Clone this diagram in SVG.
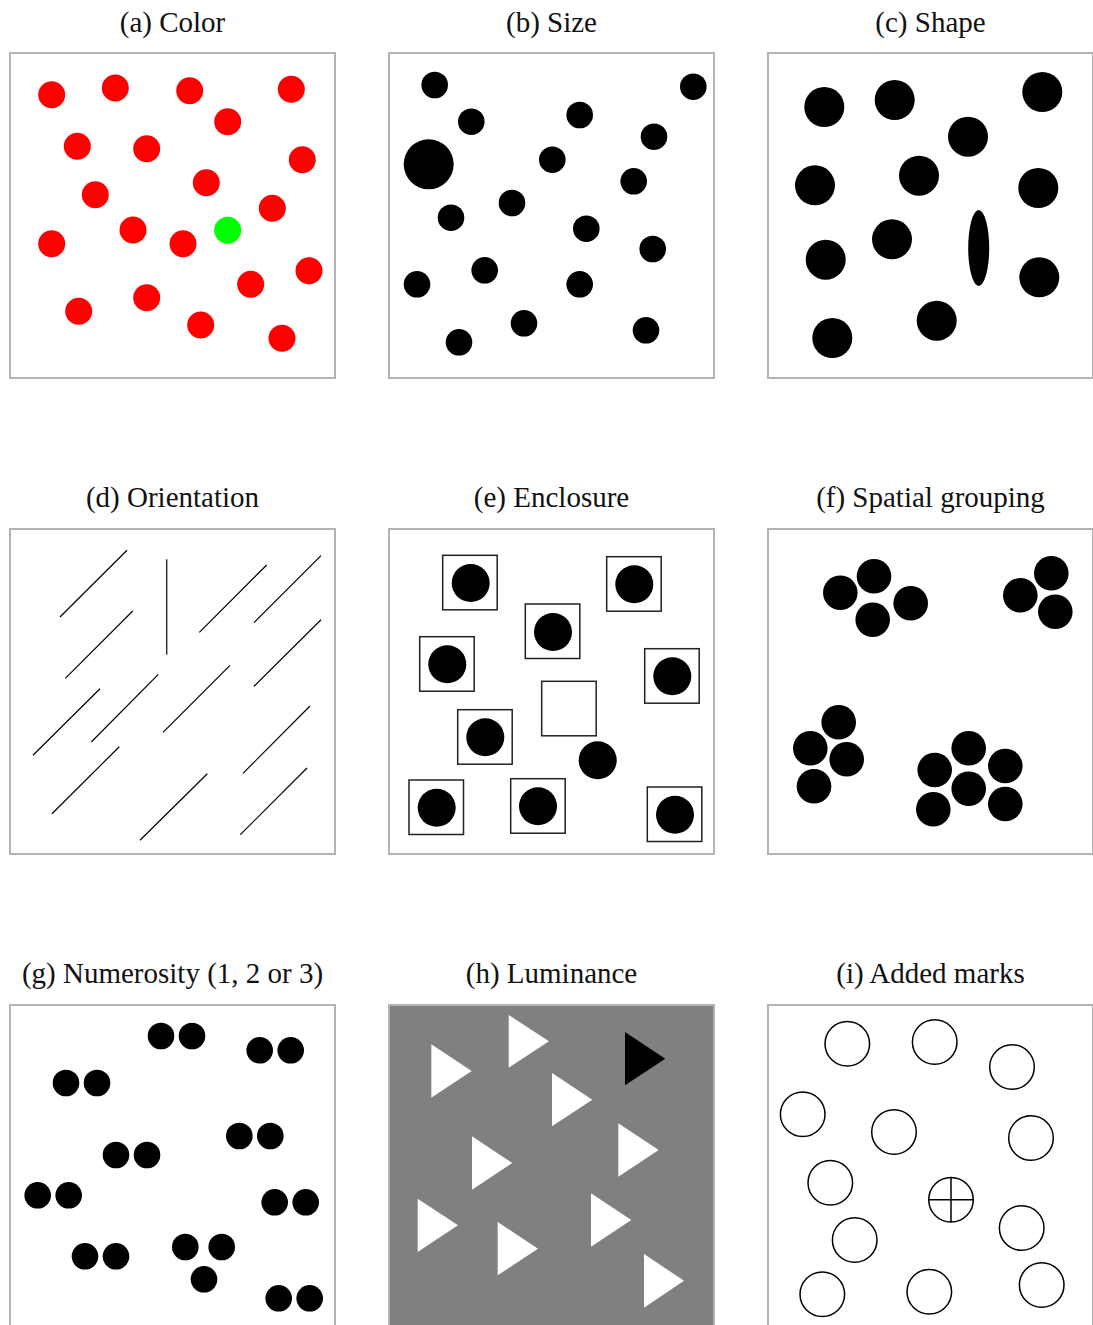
<svg xmlns="http://www.w3.org/2000/svg" width="1093" height="1325" viewBox="0 0 1093 1325">
<style>
.t{font-family:"Liberation Serif","Times New Roman",serif;font-size:29px;fill:#111;text-anchor:middle}
.f{fill:#fff;stroke:#b3b3b3;stroke-width:2}
.r{fill:#ff0000}
.k{fill:#000}
.ln{stroke:#000;stroke-width:1.2;fill:none}
.sq{fill:none;stroke:#222;stroke-width:1.5}
.w{fill:#fff}
.o{fill:none;stroke:#000;stroke-width:1.5}
</style>
<rect width="1093" height="1325" fill="#fff"/>

<g id="panel-a">
<text class="t" x="172.5" y="32">(a) Color</text>
<rect class="f" x="10" y="53" width="325" height="325"/>
<g class="r">
<circle cx="51.7" cy="94.7" r="13.5"/><circle cx="115.3" cy="88" r="13.5"/><circle cx="189.7" cy="90.7" r="13.5"/><circle cx="291.3" cy="89.3" r="13.5"/>
<circle cx="227.7" cy="121.7" r="13.5"/><circle cx="77.3" cy="146.3" r="13.5"/><circle cx="146.7" cy="148.7" r="13.5"/><circle cx="302.3" cy="159.7" r="13.5"/>
<circle cx="206.3" cy="182.7" r="13.5"/><circle cx="95.3" cy="194.7" r="13.5"/><circle cx="272.3" cy="208.3" r="13.5"/><circle cx="133" cy="230" r="13.5"/>
<circle cx="51.7" cy="243.7" r="13.5"/><circle cx="183" cy="243.7" r="13.5"/><circle cx="309" cy="270.7" r="13.5"/><circle cx="250.7" cy="284.3" r="13.5"/>
<circle cx="146.7" cy="297.7" r="13.5"/><circle cx="78.7" cy="311.3" r="13.5"/><circle cx="200.7" cy="325" r="13.5"/><circle cx="282" cy="338.3" r="13.5"/>
</g>
<circle cx="227.7" cy="230.3" r="13.5" fill="#00ff00"/>
</g>

<g id="panel-b">
<text class="t" x="551.5" y="32">(b) Size</text>
<rect class="f" x="389" y="53" width="325" height="325"/>
<g class="k">
<circle cx="434.7" cy="85" r="13.3"/><circle cx="693.3" cy="86.7" r="13.3"/><circle cx="471.3" cy="121.7" r="13.3"/><circle cx="579.7" cy="115" r="13.3"/>
<circle cx="654" cy="136.7" r="13.3"/><circle cx="428.7" cy="164.3" r="25"/><circle cx="552.3" cy="159.7" r="13.3"/><circle cx="633.7" cy="181.3" r="13.3"/>
<circle cx="512" cy="203" r="13.3"/><circle cx="451" cy="217.7" r="13.3"/><circle cx="586.3" cy="228.7" r="13.3"/><circle cx="652.7" cy="249" r="13.3"/>
<circle cx="484.7" cy="270.3" r="13.3"/><circle cx="417" cy="284.3" r="13.3"/><circle cx="579.7" cy="284.3" r="13.3"/><circle cx="524" cy="323.3" r="13.3"/>
<circle cx="646" cy="330.3" r="13.3"/><circle cx="459" cy="342.3" r="13.3"/>
</g>
</g>

<g id="panel-c">
<text class="t" x="930.5" y="32">(c) Shape</text>
<rect class="f" x="768" y="53" width="325" height="325"/>
<g class="k">
<circle cx="824.3" cy="107" r="20"/><circle cx="894.7" cy="100" r="20"/><circle cx="1042.3" cy="92" r="20"/><circle cx="968" cy="136.7" r="20"/>
<circle cx="815" cy="185.3" r="20"/><circle cx="919" cy="175.7" r="20"/><circle cx="1038.3" cy="188" r="20"/><circle cx="892" cy="239.3" r="20"/>
<ellipse cx="978.7" cy="248" rx="10.5" ry="38"/>
<circle cx="825.7" cy="259.7" r="20"/><circle cx="1039.3" cy="277.3" r="20"/><circle cx="936.7" cy="320.7" r="20"/><circle cx="832.3" cy="338" r="20"/>
</g>
</g>

<g id="panel-d">
<text class="t" x="172.5" y="507">(d) Orientation</text>
<rect class="f" x="10" y="529" width="325" height="325"/>
<g class="ln">
<line x1="60" y1="617" x2="127" y2="550.3"/>
<line x1="166.7" y1="559.3" x2="166.7" y2="654.7" stroke="#333" stroke-width="1.5"/>
<line x1="199.3" y1="632.3" x2="266.7" y2="565"/>
<line x1="254" y1="622.7" x2="321" y2="555.7"/>
<line x1="65.3" y1="678.3" x2="132.7" y2="611"/>
<line x1="254" y1="686.3" x2="321" y2="619.7"/>
<line x1="33" y1="755.3" x2="100" y2="688.7"/>
<line x1="91.3" y1="742" x2="158.3" y2="674.3"/>
<line x1="163" y1="732.3" x2="230" y2="665.3"/>
<line x1="243" y1="773.3" x2="310" y2="706"/>
<line x1="52" y1="813.7" x2="119.3" y2="746.7"/>
<line x1="140" y1="840.3" x2="207.3" y2="773.7"/>
<line x1="240.3" y1="834.7" x2="307" y2="768"/>
</g>
</g>

<g id="panel-e">
<text class="t" x="551.5" y="507">(e) Enclosure</text>
<rect class="f" x="389" y="529" width="325" height="325"/>
<g class="sq">
<rect x="442.7" y="555.3" width="54.5" height="54.5"/>
<rect x="606.7" y="556.7" width="54.5" height="54.5"/>
<rect x="525.3" y="604" width="54.5" height="54.5"/>
<rect x="419.7" y="636.7" width="54.5" height="54.5"/>
<rect x="644.7" y="648.7" width="54.5" height="54.5"/>
<rect x="541.7" y="681.3" width="54.5" height="54.5"/>
<rect x="457.7" y="709.7" width="54.5" height="54.5"/>
<rect x="409" y="780" width="54.5" height="54.5"/>
<rect x="510.7" y="778.7" width="54.5" height="54.5"/>
<rect x="647.3" y="787" width="54.5" height="54.5"/>
</g>
<g class="k">
<circle cx="470.7" cy="583" r="19"/><circle cx="634.3" cy="584.3" r="19"/><circle cx="553" cy="632" r="19"/><circle cx="447.3" cy="664.3" r="19"/>
<circle cx="672.3" cy="676.3" r="19"/><circle cx="485.3" cy="737.3" r="19"/><circle cx="597.7" cy="760.3" r="19"/><circle cx="436.7" cy="807.7" r="19"/>
<circle cx="538" cy="806.3" r="19"/><circle cx="675" cy="814.7" r="19"/>
</g>
</g>

<g id="panel-f">
<text class="t" x="930.5" y="507">(f) Spatial grouping</text>
<rect class="f" x="768" y="529" width="325" height="325"/>
<g class="k">
<circle cx="840.3" cy="592.7" r="17.3"/><circle cx="874" cy="576.3" r="17.3"/><circle cx="910.7" cy="603.3" r="17.3"/><circle cx="872.7" cy="619.7" r="17.3"/>
<circle cx="1020.3" cy="595.3" r="17.3"/><circle cx="1051.3" cy="573.3" r="17.3"/><circle cx="1055.3" cy="611.7" r="17.3"/>
<circle cx="838.7" cy="722.3" r="17.3"/><circle cx="810.3" cy="748.3" r="17.3"/><circle cx="846.7" cy="759.3" r="17.3"/><circle cx="814" cy="786.3" r="17.3"/>
<circle cx="968.7" cy="748.3" r="17.3"/><circle cx="934.7" cy="770" r="17.3"/><circle cx="1005.3" cy="766" r="17.3"/><circle cx="968.7" cy="788.7" r="17.3"/>
<circle cx="933.3" cy="809.3" r="17.3"/><circle cx="1005.3" cy="804" r="17.3"/>
</g>
</g>

<g id="panel-g">
<text class="t" x="172.5" y="983">(g) Numerosity (1, 2 or 3)</text>
<rect class="f" x="10" y="1005" width="325" height="325"/>
<g class="k">
<circle cx="161" cy="1036" r="13.3"/><circle cx="192" cy="1036" r="13.3"/>
<circle cx="259.7" cy="1050.3" r="13.3"/><circle cx="290.7" cy="1050.3" r="13.3"/>
<circle cx="66" cy="1083" r="13.3"/><circle cx="97" cy="1083" r="13.3"/>
<circle cx="239.3" cy="1136" r="13.3"/><circle cx="270.3" cy="1136" r="13.3"/>
<circle cx="116" cy="1155" r="13.3"/><circle cx="147" cy="1155" r="13.3"/>
<circle cx="37.7" cy="1195.3" r="13.3"/><circle cx="68.7" cy="1195.3" r="13.3"/>
<circle cx="274.7" cy="1202.3" r="13.3"/><circle cx="305.7" cy="1202.3" r="13.3"/>
<circle cx="85" cy="1256.3" r="13.3"/><circle cx="116" cy="1256.3" r="13.3"/>
<circle cx="185.3" cy="1247" r="13.3"/><circle cx="221.7" cy="1247" r="13.3"/><circle cx="204" cy="1279.3" r="13.3"/>
<circle cx="278.7" cy="1298.3" r="13.3"/><circle cx="309.7" cy="1298.3" r="13.3"/>
</g>
</g>

<g id="panel-h">
<text class="t" x="551.5" y="983">(h) Luminance</text>
<rect class="f" x="389" y="1005" width="325" height="325" style="fill:#808080"/>
<g class="w">
<polygon points="431.3,1044.3 471.7,1071 431.3,1097.7"/>
<polygon points="508.7,1015 549,1041.3 508.7,1067.7"/>
<polygon points="552,1073 592.3,1099.7 552,1126.3"/>
<polygon points="472,1136.3 512.3,1163 472,1189.7"/>
<polygon points="618.3,1123.3 658.7,1150 618.3,1176.7"/>
<polygon points="417.7,1198.7 458,1225.3 417.7,1252"/>
<polygon points="591,1193.3 631.3,1220 591,1246.7"/>
<polygon points="497.7,1222 538,1248.7 497.7,1275.3"/>
<polygon points="644,1254 684,1280.7 644,1307.7"/>
</g>
<polygon class="k" points="625,1032 665.3,1058.7 625,1085.3"/>
</g>

<g id="panel-i">
<text class="t" x="930.5" y="983">(i) Added marks</text>
<rect class="f" x="768" y="1005" width="325" height="325"/>
<g class="o">
<circle cx="847.3" cy="1043.7" r="22.3"/><circle cx="934.7" cy="1042" r="22.3"/><circle cx="1012" cy="1067" r="22.3"/>
<circle cx="802.7" cy="1114.3" r="22.3"/><circle cx="894" cy="1132" r="22.3"/><circle cx="1031" cy="1138" r="22.3"/>
<circle cx="830.3" cy="1182.7" r="22.3"/><circle cx="951" cy="1199.7" r="22.3"/><circle cx="1021.7" cy="1228" r="22.3"/>
<circle cx="854.7" cy="1240" r="22.3"/><circle cx="822.3" cy="1294.3" r="22.3"/><circle cx="929.3" cy="1291.7" r="22.3"/><circle cx="1041.7" cy="1285" r="22.3"/>
<line x1="928.7" y1="1199.7" x2="973.3" y2="1199.7"/>
<line x1="951" y1="1177.4" x2="951" y2="1222"/>
</g>
</g>
</svg>
